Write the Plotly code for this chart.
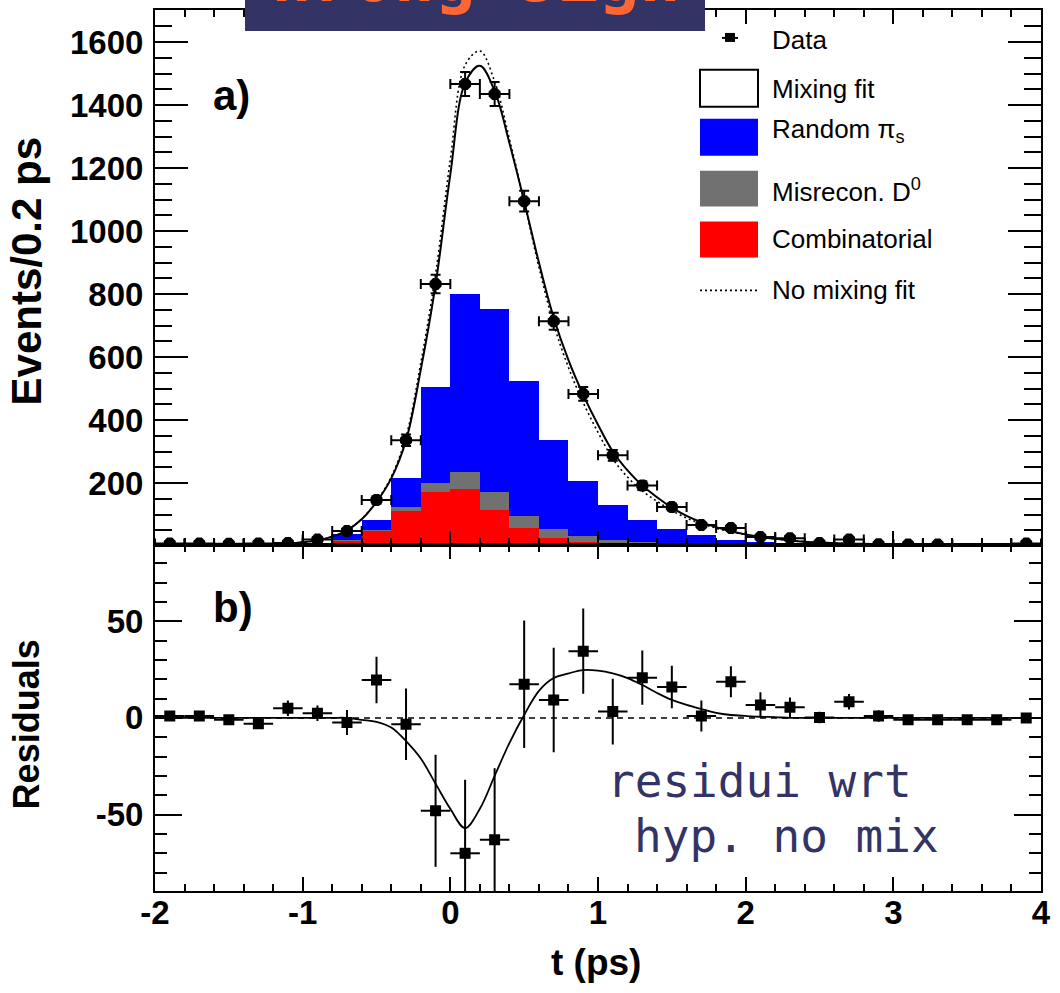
import plotly.graph_objects as go

# ---------------- data ----------------
t_bins = [-1.9, -1.7, -1.5, -1.3, -1.1, -0.9, -0.7, -0.5, -0.3, -0.1,
          0.1, 0.3, 0.5, 0.7, 0.9, 1.1, 1.3, 1.5, 1.7, 1.9,
          2.1, 2.3, 2.5, 2.7, 2.9, 3.1, 3.3, 3.5, 3.7, 3.9]

data_counts = [8, 8, 7, 8, 10, 21, 48, 146, 336, 832,
               1467, 1435, 1095, 714, 483, 288, 192, 124, 67, 57,
               29, 25, 10, 21, 6, 5, 5, None, None, 8]
data_err = [3, 3, 3, 3, 3, 4.5, 7, 12, 18, 29,
            38, 38, 33, 27, 22, 17, 14, 11, 8, 8,
            5, 5, 3, 5, 2.5, 2, 2, 2, 2, 3]

combinatorial = [0, 0, 0, 0, 3, 8, 18, 48, 111, 171,
                 180, 116, 56, 26, 13, 10, 8, 6, 5, 4,
                 3, 2, 2, 1, 1, 0, 0, 0, 0, 0]
misrecon_d0 = [0, 0, 0, 0, 0, 0, 2, 2, 13, 30,
               55, 56, 39, 29, 20, 9, 6, 4, 3, 3,
               4, 4, 2, 1, 0, 0, 0, 0, 0, 0]
random_pis = [0, 0, 0, 0, 0, 0, 17, 33, 91, 304,
              565, 581, 429, 283, 175, 111, 69, 45, 26, 12,
              3, 2, 3, 2, 0, 0, 0, 0, 0, 0]

t_curve = [-2.0, -1.9, -1.8, -1.7, -1.6, -1.5, -1.4, -1.3, -1.2, -1.1,
           -1.0, -0.9, -0.8, -0.7, -0.6, -0.5, -0.4, -0.3, -0.2, -0.1,
           0.0, 0.1, 0.2, 0.3, 0.4, 0.5, 0.6, 0.7, 0.8, 0.9,
           1.0, 1.1, 1.2, 1.3, 1.4, 1.5, 1.6, 1.7, 1.8, 1.9,
           2.0, 2.1, 2.2, 2.3, 2.4, 2.5, 2.6, 2.7, 2.8, 2.9,
           3.0, 3.1, 3.2, 3.3, 3.4, 3.5, 3.6, 3.7, 3.8, 3.9, 4.0]

mixing_fit = [3, 3, 3, 3, 3, 4, 4, 5, 6, 8,
              12, 18, 30, 50, 85, 140, 215, 335, 560, 830,
              1180, 1470, 1525, 1445, 1280, 1095, 900, 725, 590, 480,
              385, 300, 240, 192, 155, 122, 96, 76, 60, 47,
              37, 29, 23, 18, 14, 11, 9, 8, 7, 6,
              5, 5, 4, 4, 4, 4, 3, 3, 3, 3, 3]

no_mixing_fit = [3, 3, 3, 3, 3, 4, 4, 5, 6, 8,
                 12, 18, 30, 50, 86, 142, 220, 347, 581, 864,
                 1227, 1527, 1572, 1475, 1293, 1094, 886, 704, 567, 455,
                 361, 277, 219, 175, 142, 113, 89, 71, 57, 45,
                 36, 28, 23, 18, 14, 11, 9, 8, 7, 6,
                 5, 5, 4, 4, 4, 4, 3, 3, 3, 3, 3]

resid_curve = [0, 0, 0, 0, 0, 0, 0, 0, 0, 0,
               0, 0, 0, 0, -1, -2, -5, -12, -21, -34,
               -47, -57, -47, -30, -13, 1.5, 14, 20.6, 23, 24.7,
               24.4, 23, 20.6, 17, 12.9, 9.3, 6.7, 4.6, 2.6, 1.5,
               1, 0.6, 0.4, 0, 0, 0, 0, 0, 0, 0,
               0, 0, 0, 0, 0, 0, 0, 0, 0, 0, 0]

residuals = [1, 1, -1, -3, 5, 2.4, -2.4, 19.6, -3.3, -48,
             -70, -63, 17.4, 9.3, 34.5, 3.3, 20.8, 16, 1, 18.7,
             6.7, 5.5, 0.2, 8.4, 1, -1, -1, -1, -1, 0]
resid_err = [2, 2, 2, 2, 4, 4, 6.5, 12, 18.5, 29,
             38, 37, 33, 27, 22, 17, 14, 11, 8, 8,
             6.5, 5, 3, 4, 3, 2, 2, 2, 2, 2]

x_tick_vals = [-2, -1, 0, 1, 2, 3, 4]
x_tick_text = ["-2", "-1", "0", "1", "2", "3", "4"]
r_tick_vals = [-50, 0, 50]
r_tick_text = ["-50", "0", "50"]

legend_labels = ["Data", "Mixing fit", "Random \u03c0<sub>s</sub>",
                 "Misrecon. D<sup>0</sup>", "Combinatorial", "No mixing fit"]

# ---------------- geometry helpers ----------------
W, H = 1060, 993
L, R, T, B = 155, 19, 8, 102
PW, PH = W - L - R, H - T - B


def px(x):
    return (x - L) / PW


def py(y):
    return (H - B - y) / PH


BLUE = "#0000ff"
GRAY = "#717171"
RED = "#ff0000"
NAVY = "#333366"
ORANGE = "#ff6633"
FONT = "Liberation Sans"

fig = go.Figure()

# stacked histograms
fig.add_trace(go.Bar(x=t_bins, y=combinatorial, width=0.2, marker=dict(color=RED, line_width=0),
                     xaxis="x", yaxis="y", showlegend=False))
fig.add_trace(go.Bar(x=t_bins, y=misrecon_d0, width=0.2, marker=dict(color=GRAY, line_width=0),
                     xaxis="x", yaxis="y", showlegend=False))
fig.add_trace(go.Bar(x=t_bins, y=random_pis, width=0.2, marker=dict(color=BLUE, line_width=0),
                     xaxis="x", yaxis="y", showlegend=False))

# fit curves
fig.add_trace(go.Scatter(x=t_curve, y=no_mixing_fit, mode="lines",
                         line=dict(color="black", width=1.6, dash="2px,3px", shape="spline"),
                         xaxis="x", yaxis="y", showlegend=False))
fig.add_trace(go.Scatter(x=t_curve, y=mixing_fit, mode="lines",
                         line=dict(color="black", width=2, shape="spline"),
                         xaxis="x", yaxis="y", showlegend=False))

# data points
fig.add_trace(go.Scatter(x=t_bins, y=data_counts, mode="markers",
                         marker=dict(symbol="octagon", size=13, color="black"),
                         error_x=dict(type="constant", value=0.1, color="black", thickness=2, width=5),
                         error_y=dict(type="data", array=data_err, color="black", thickness=2, width=5),
                         xaxis="x", yaxis="y", showlegend=False))

# residual panel
fig.add_trace(go.Scatter(x=t_curve, y=resid_curve, mode="lines",
                         line=dict(color="black", width=1.8, shape="spline"),
                         xaxis="x2", yaxis="y2", showlegend=False))
fig.add_trace(go.Scatter(x=t_bins, y=residuals, mode="markers",
                         marker=dict(symbol="square", size=11, color="black"),
                         error_x=dict(type="constant", value=0.1, color="black", thickness=2, width=0),
                         error_y=dict(type="data", array=resid_err, color="black", thickness=2, width=0),
                         xaxis="x2", yaxis="y2", showlegend=False))

axis_common = dict(showline=True, linewidth=2, linecolor="black", mirror="ticks",
                   ticks="inside", tickwidth=2, tickcolor="black", showgrid=False, zeroline=False,
                   tickfont=dict(family=FONT, size=33, color="black", weight="bold"))

split = py(544)

fig.update_layout(
    width=W, height=H,
    margin=dict(l=L, r=R, t=T, b=B),
    paper_bgcolor="white", plot_bgcolor="white",
    barmode="stack", bargap=0,
    showlegend=False,
    xaxis=dict(domain=[0, 1], anchor="y", range=[-2, 4], tickmode="linear", tick0=-2, dtick=1,
               ticklen=14, showticklabels=False,
               minor=dict(ticks="inside", ticklen=7, tickwidth=2, tickcolor="black", tick0=-2, dtick=0.2),
               **axis_common),
    yaxis=dict(domain=[split, 1], anchor="x", range=[4, 1702], tickmode="linear", tick0=0, dtick=200,
               ticklen=33, ticklabelstandoff=3,
               minor=dict(ticks="inside", ticklen=17, tickwidth=2, tickcolor="black", tick0=0, dtick=50),
               **axis_common),
    xaxis2=dict(domain=[0, 1], anchor="y2", range=[-2, 4], tickmode="array",
                tickvals=x_tick_vals, ticktext=x_tick_text, ticklen=14, ticklabelstandoff=-9,
                minor=dict(ticks="inside", ticklen=7, tickwidth=2, tickcolor="black", tickmode="linear",
                           tick0=-2, dtick=0.2),
                **axis_common),
    yaxis2=dict(domain=[0, split], anchor="x2", range=[-89.5, 89.5], tickmode="array",
                tickvals=r_tick_vals, ticktext=r_tick_text, ticklen=27, ticklabelstandoff=3,
                minor=dict(ticks="inside", ticklen=12, tickwidth=2, tickcolor="black", tickmode="linear",
                           tick0=0, dtick=10),
                **axis_common),
)

shapes = []
# zero line in residual panel
shapes.append(dict(type="line", xref="x2 domain", yref="y2", x0=0, x1=1, y0=0, y1=0,
                   line=dict(color="black", width=1.5, dash="6px,5px"), layer="below"))

# legend symbols
shapes.append(dict(type="rect", xref="paper", yref="paper", x0=px(725), x1=px(735), y0=py(40), y1=py(31),
                   fillcolor="black", line_width=0))
shapes.append(dict(type="line", xref="paper", yref="paper", x0=px(722), x1=px(738), y0=py(36), y1=py(36),
                   line=dict(color="black", width=2)))
boxes = [(68, 105, "white", 2), (117, 154, BLUE, 0), (169, 205, GRAY, 0), (220, 256, RED, 0)]
for y0, y1, col, lw in boxes:
    shapes.append(dict(type="rect", xref="paper", yref="paper", x0=px(700), x1=px(758),
                       y0=py(y1), y1=py(y0), fillcolor=col,
                       line=dict(color="black", width=lw) if lw else dict(width=0)))
shapes.append(dict(type="line", xref="paper", yref="paper", x0=px(700), x1=px(758), y0=py(289), y1=py(289),
                   line=dict(color="black", width=1.6, dash="2px,3px")))

# title box
shapes.append(dict(type="rect", xref="paper", yref="paper", x0=px(245), x1=px(705), y0=py(29), y1=py(-5),
                   fillcolor=NAVY, line_width=0))

fig.update_layout(shapes=shapes)

ann = []
legend_y = [38, 87, 129, 189, 238, 289]
for lab, yy in zip(legend_labels, legend_y):
    ann.append(dict(text=lab, xref="paper", yref="paper", x=px(770), y=py(yy), xanchor="left",
                    yanchor="middle", showarrow=False, font=dict(family=FONT, size=26, color="black")))

ann.append(dict(text="a)", xref="paper", yref="paper", x=px(211), y=py(94), xanchor="left", yanchor="middle",
                showarrow=False, font=dict(family=FONT, size=42, color="black", weight="bold")))
ann.append(dict(text="b)", xref="paper", yref="paper", x=px(211), y=py(607), xanchor="left", yanchor="middle",
                showarrow=False, font=dict(family=FONT, size=42, color="black", weight="bold")))

ann.append(dict(text="Events/0.2 ps", xref="paper", yref="paper", x=px(26), y=py(270), xanchor="center",
                yanchor="middle", textangle=-90, showarrow=False,
                font=dict(family=FONT, size=42, color="black", weight="bold")))
ann.append(dict(text="Residuals", xref="paper", yref="paper", x=px(26), y=py(724), xanchor="center",
                yanchor="middle", textangle=-90, showarrow=False,
                font=dict(family=FONT, size=36, color="black", weight="bold")))
ann.append(dict(text="t (ps)", xref="paper", yref="paper", x=px(596), y=py(963), xanchor="center",
                yanchor="middle", showarrow=False,
                font=dict(family=FONT, size=37, color="black", weight="bold")))

ann.append(dict(text="Wrong Sign", xref="paper", yref="paper", x=px(475), y=py(17), xanchor="center",
                yanchor="bottom", showarrow=False,
                font=dict(family="DejaVu Sans Mono", size=68, color=ORANGE, weight="bold")))

ann.append(dict(text="residui wrt", xref="paper", yref="paper", x=px(605), y=py(810), xanchor="left",
                yanchor="bottom", showarrow=False,
                font=dict(family="DejaVu Sans Mono", size=46, color=NAVY)))
ann.append(dict(text="hyp. no mix", xref="paper", yref="paper", x=px(632), y=py(865), xanchor="left",
                yanchor="bottom", showarrow=False,
                font=dict(family="DejaVu Sans Mono", size=46, color=NAVY)))

fig.update_layout(annotations=ann)

fig.write_html("out.html", config={"displayModeBar": False},
               post_script="document.body.style.margin='0px';document.body.style.overflow='hidden';")
